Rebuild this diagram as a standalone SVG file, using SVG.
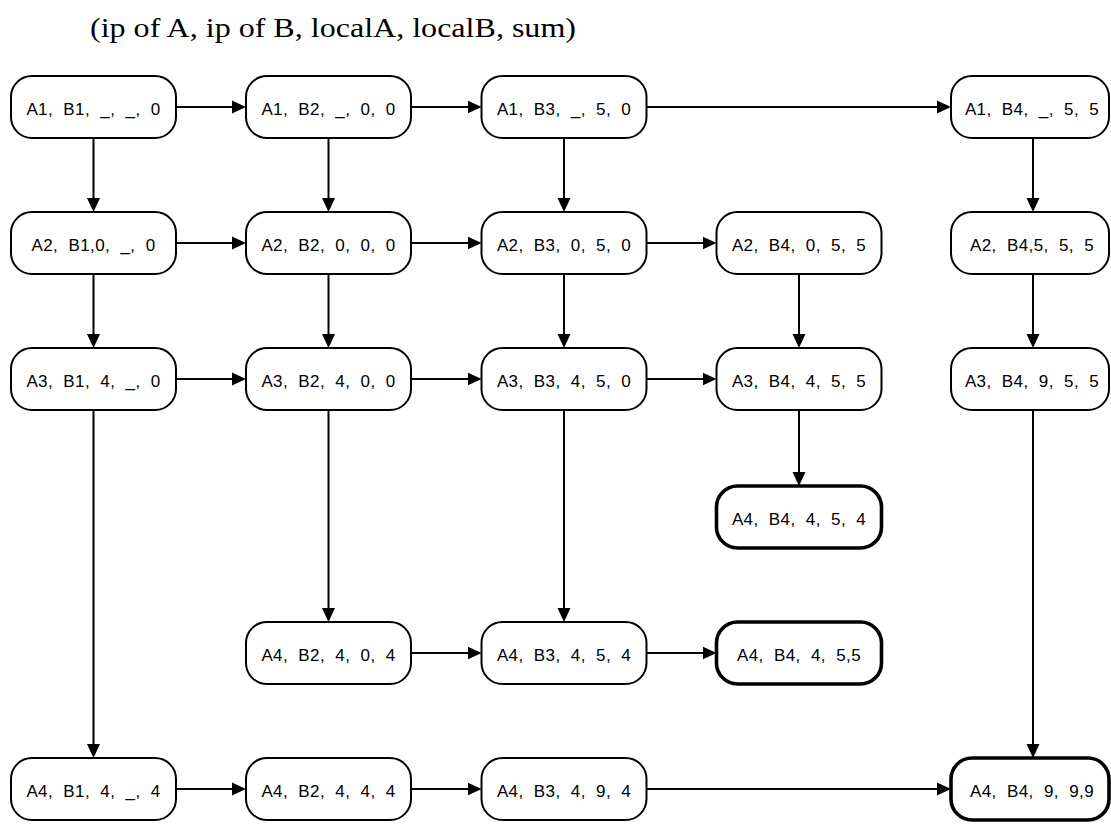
<svg xmlns="http://www.w3.org/2000/svg" width="1111" height="825" viewBox="0 0 1111 825">
<style>
.n rect{fill:#fff;stroke:#000;stroke-width:2}
.n.b rect{stroke-width:3.6}
.n text{font-family:"Liberation Sans",Arial,sans-serif;font-size:17px;letter-spacing:0.4px;fill:#000;text-anchor:middle;white-space:pre}
.e line{stroke:#000;stroke-width:2;marker-end:url(#ah)}
.t{font-family:"Liberation Serif","Times New Roman",serif;font-size:28px;fill:#000}
</style>
<defs>
<marker id="ah" markerUnits="userSpaceOnUse" markerWidth="16" markerHeight="16" viewBox="0 0 16 16" refX="2" refY="8" orient="auto">
<path d="M0,1.5 L14,8 L0,14.5 z" fill="#000"/>
</marker>
</defs>
<rect width="1111" height="825" fill="#fff"/>
<text class="t" x="90" y="37" textLength="486" lengthAdjust="spacingAndGlyphs">(ip of A, ip of B, localA, localB, sum)</text>
<g id="connectors" class="e">
<line x1="176" y1="107" x2="234" y2="107"/>
<line x1="411" y1="107" x2="469.5" y2="107"/>
<line x1="646.5" y1="107" x2="939" y2="107"/>
<line x1="176" y1="243" x2="234" y2="243"/>
<line x1="411" y1="243" x2="469.5" y2="243"/>
<line x1="646.5" y1="243" x2="704.5" y2="243"/>
<line x1="176" y1="379" x2="234" y2="379"/>
<line x1="411" y1="379" x2="469.5" y2="379"/>
<line x1="646.5" y1="379" x2="704.5" y2="379"/>
<line x1="411" y1="653" x2="469.5" y2="653"/>
<line x1="646.5" y1="653" x2="704.5" y2="653"/>
<line x1="176" y1="789" x2="234" y2="789"/>
<line x1="411" y1="789" x2="469.5" y2="789"/>
<line x1="646.5" y1="789" x2="939" y2="789"/>
<line x1="93.5" y1="138" x2="93.5" y2="200"/>
<line x1="93.5" y1="274" x2="93.5" y2="336"/>
<line x1="93.5" y1="410" x2="93.5" y2="746"/>
<line x1="328.5" y1="138" x2="328.5" y2="200"/>
<line x1="328.5" y1="274" x2="328.5" y2="336"/>
<line x1="328.5" y1="410" x2="328.5" y2="610"/>
<line x1="564" y1="138" x2="564" y2="200"/>
<line x1="564" y1="274" x2="564" y2="336"/>
<line x1="564" y1="410" x2="564" y2="610"/>
<line x1="799" y1="274" x2="799" y2="336"/>
<line x1="799" y1="410" x2="799" y2="474"/>
<line x1="1033" y1="138" x2="1033" y2="200"/>
<line x1="1033" y1="274" x2="1033" y2="336"/>
<line x1="1033" y1="410" x2="1033" y2="746"/>
</g>
<g id="n11" class="n"><rect x="11" y="76" width="165" height="62" rx="21"/><text x="93.5" y="115">A1,  B1,  _,  _,  0</text></g>
<g id="n12" class="n"><rect x="246" y="76" width="165" height="62" rx="21"/><text x="328.5" y="115">A1,  B2,  _,  0,  0</text></g>
<g id="n13" class="n"><rect x="481.5" y="76" width="165" height="62" rx="21"/><text x="564" y="115">A1,  B3,  _,  5,  0</text></g>
<g id="n15" class="n"><rect x="951" y="76" width="158" height="62" rx="21"/><text x="1032" y="115">A1,  B4,  _,  5,  5</text></g>
<g id="n21" class="n"><rect x="11" y="212" width="165" height="62" rx="21"/><text x="93.5" y="251">A2,  B1,0,  _,  0</text></g>
<g id="n22" class="n"><rect x="246" y="212" width="165" height="62" rx="21"/><text x="328.5" y="251">A2,  B2,  0,  0,  0</text></g>
<g id="n23" class="n"><rect x="481.5" y="212" width="165" height="62" rx="21"/><text x="564" y="251">A2,  B3,  0,  5,  0</text></g>
<g id="n24" class="n"><rect x="716.5" y="212" width="165" height="62" rx="21"/><text x="799" y="251">A2,  B4,  0,  5,  5</text></g>
<g id="n25" class="n"><rect x="951" y="212" width="158" height="62" rx="21"/><text x="1032" y="251">A2,  B4,5,  5,  5</text></g>
<g id="n31" class="n"><rect x="11" y="348" width="165" height="62" rx="21"/><text x="93.5" y="387">A3,  B1,  4,  _,  0</text></g>
<g id="n32" class="n"><rect x="246" y="348" width="165" height="62" rx="21"/><text x="328.5" y="387">A3,  B2,  4,  0,  0</text></g>
<g id="n33" class="n"><rect x="481.5" y="348" width="165" height="62" rx="21"/><text x="564" y="387">A3,  B3,  4,  5,  0</text></g>
<g id="n34" class="n"><rect x="716.5" y="348" width="165" height="62" rx="21"/><text x="799" y="387">A3,  B4,  4,  5,  5</text></g>
<g id="n35" class="n"><rect x="951" y="348" width="158" height="62" rx="21"/><text x="1032" y="387">A3,  B4,  9,  5,  5</text></g>
<g id="n44" class="n b"><rect x="716.5" y="486" width="165" height="62" rx="21"/><text x="799" y="525">A4,  B4,  4,  5,  4</text></g>
<g id="n52" class="n"><rect x="246" y="622" width="165" height="62" rx="21"/><text x="328.5" y="661">A4,  B2,  4,  0,  4</text></g>
<g id="n53" class="n"><rect x="481.5" y="622" width="165" height="62" rx="21"/><text x="564" y="661">A4,  B3,  4,  5,  4</text></g>
<g id="n54" class="n b"><rect x="716.5" y="622" width="165" height="62" rx="21"/><text x="799" y="661">A4,  B4,  4,  5,5</text></g>
<g id="n61" class="n"><rect x="11" y="758" width="165" height="62" rx="21"/><text x="93.5" y="797">A4,  B1,  4,  _,  4</text></g>
<g id="n62" class="n"><rect x="246" y="758" width="165" height="62" rx="21"/><text x="328.5" y="797">A4,  B2,  4,  4,  4</text></g>
<g id="n63" class="n"><rect x="481.5" y="758" width="165" height="62" rx="21"/><text x="564" y="797">A4,  B3,  4,  9,  4</text></g>
<g id="n65" class="n b"><rect x="951" y="758" width="158" height="62" rx="21"/><text x="1032" y="797">A4,  B4,  9,  9,9</text></g>
</svg>
